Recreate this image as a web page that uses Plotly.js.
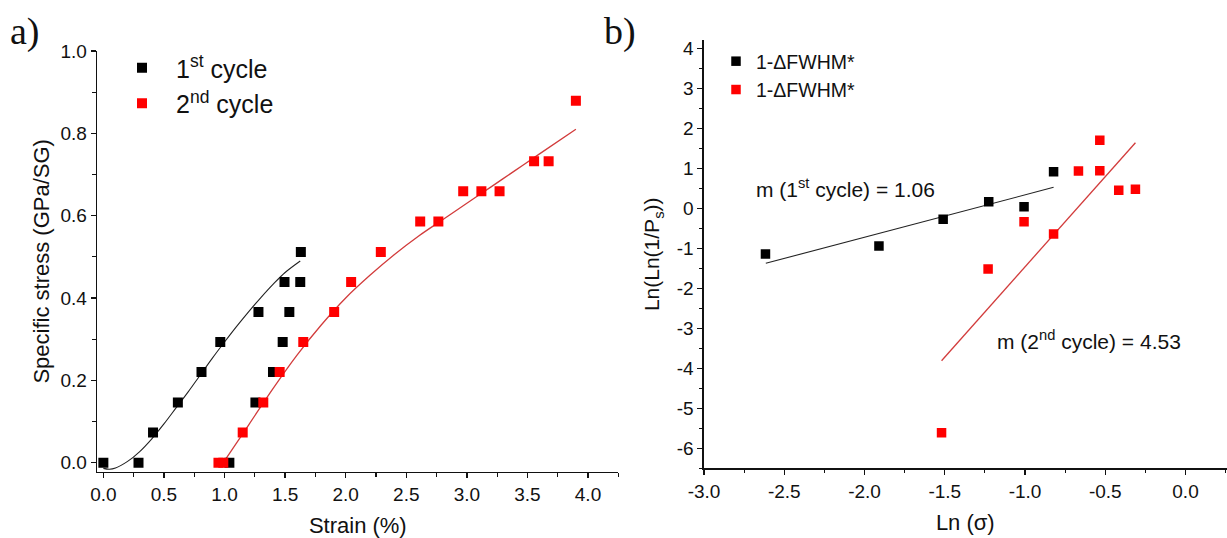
<!DOCTYPE html>
<html>
<head>
<meta charset="utf-8">
<script src="https://cdn.plot.ly/plotly-3.0.1.min.js"></script>
<style>
  html, body { margin: 0; padding: 0; background: #fff; }
  #chart { width: 1227px; height: 538px; }
</style>
</head>
<body>
<div id="chart"></div>
<script>
// ---- Panel a) data: specific stress vs strain ----
const strain1 = [0.0, 0.29, 0.41, 0.615, 0.81, 0.965, 1.04, 1.255, 1.28, 1.40, 1.48, 1.495, 1.535, 1.625, 1.63];
const stress1 = [0, 0, 0.073, 0.146, 0.22, 0.293, 0, 0.146, 0.366, 0.22, 0.293, 0.439, 0.366, 0.439, 0.512];
const strain2 = [0.95, 0.99, 1.15, 1.32, 1.455, 1.65, 1.905, 2.045, 2.29, 2.615, 2.765, 2.97, 3.12, 3.27, 3.555, 3.675, 3.9];
const stress2 = [0, 0, 0.073, 0.146, 0.22, 0.293, 0.366, 0.439, 0.512, 0.586, 0.586, 0.659, 0.659, 0.659, 0.732, 0.732, 0.879];

// fitted curves
const fitA1x = [0, 0.05, 0.1, 0.2, 0.3, 0.4, 0.5, 0.6, 0.7, 0.8, 0.9, 1.0, 1.1, 1.2, 1.3, 1.4, 1.5, 1.625];
const fitA1y = [-0.014, -0.016, -0.013, 0.003, 0.027, 0.058, 0.094, 0.133, 0.172, 0.213, 0.254, 0.293, 0.331, 0.367, 0.401, 0.433, 0.462, 0.49];
const fitA2x = [0.99, 1.2, 1.4, 1.6, 1.8, 2.0, 2.2, 2.4, 2.6, 2.8, 3.0, 3.2, 3.4, 3.6, 3.9];
const fitA2y = [0.0, 0.092, 0.18, 0.262, 0.335, 0.4, 0.455, 0.505, 0.55, 0.59, 0.63, 0.67, 0.71, 0.75, 0.81];

// ---- Panel b) data: Weibull plot ----
const lnSigma1 = [-2.617, -1.91, -1.51, -1.226, -1.006, -0.822];
const lnLn1 = [-1.14, -0.94, -0.275, 0.165, 0.04, 0.915];
const lnSigma2 = [-1.52, -1.23, -1.006, -0.822, -0.667, -0.534, -0.534, -0.416, -0.312];
const lnLn2 = [-5.61, -1.52, -0.335, -0.64, 0.93, 0.94, 1.70, 0.45, 0.475];
const fitB1x = [-2.615, -0.822];
const fitB1y = [-1.375, 0.525];
const fitB2x = [-1.52, -0.312];
const fitB2y = [-3.81, 1.64];

// tick labels
const aXticks = [0, 0.5, 1.0, 1.5, 2.0, 2.5, 3.0, 3.5, 4.0];
const aXtext = ['0.0', '0.5', '1.0', '1.5', '2.0', '2.5', '3.0', '3.5', '4.0'];
const aYticks = [0, 0.2, 0.4, 0.6, 0.8, 1.0];
const aYtext = ['0.0', '0.2', '0.4', '0.6', '0.8', '1.0'];
const bXticks = [-3.0, -2.5, -2.0, -1.5, -1.0, -0.5, 0.0];
const bXtext = ['-3.0', '-2.5', '-2.0', '-1.5', '-1.0', '-0.5', '0.0'];
const bYticks = [-6, -5, -4, -3, -2, -1, 0, 1, 2, 3, 4];
const bYtext = ['-6', '-5', '-4', '-3', '-2', '-1', '0', '1', '2', '3', '4'];

const FONT = 'Liberation Sans, Arial, sans-serif';
const RED = '#ff0000';
const INK = '#111';

const traces = [
  {x: fitA1x, y: fitA1y, mode: 'lines', line: {color: '#222', width: 1.1, shape: 'spline'}, showlegend: false, xaxis: 'x', yaxis: 'y', hoverinfo: 'skip'},
  {x: fitA2x, y: fitA2y, mode: 'lines', line: {color: '#d23c3c', width: 1.3, shape: 'spline'}, showlegend: false, xaxis: 'x', yaxis: 'y', hoverinfo: 'skip'},
  {x: strain1, y: stress1, mode: 'markers', name: '1<sup>st</sup> cycle', marker: {symbol: 'square', size: 10, color: '#000'}, xaxis: 'x', yaxis: 'y', legend: 'legend'},
  {x: strain2, y: stress2, mode: 'markers', name: '2<sup>nd</sup> cycle', marker: {symbol: 'square', size: 10, color: RED}, xaxis: 'x', yaxis: 'y', legend: 'legend'},

  {x: fitB1x, y: fitB1y, mode: 'lines', line: {color: '#222', width: 1.1}, showlegend: false, xaxis: 'x2', yaxis: 'y2', hoverinfo: 'skip'},
  {x: fitB2x, y: fitB2y, mode: 'lines', line: {color: '#d23c3c', width: 1.3}, showlegend: false, xaxis: 'x2', yaxis: 'y2', hoverinfo: 'skip'},
  {x: lnSigma1, y: lnLn1, mode: 'markers', name: '1-ΔFWHM*', marker: {symbol: 'square', size: 9.5, color: '#000'}, xaxis: 'x2', yaxis: 'y2', legend: 'legend2'},
  {x: lnSigma2, y: lnLn2, mode: 'markers', name: '1-ΔFWHM*', marker: {symbol: 'square', size: 9.5, color: RED}, xaxis: 'x2', yaxis: 'y2', legend: 'legend2'}
];

const axisCommon = {
  showline: true, linecolor: INK, linewidth: 1.6, mirror: false,
  ticks: 'outside', ticklen: 5, tickwidth: 1.4, tickcolor: INK,
  showgrid: false, zeroline: false,
  tickfont: {family: FONT, size: 19, color: INK},
  tickmode: 'array', fixedrange: true
};
const minorCommon = {ticks: 'outside', ticklen: 3.5, tickwidth: 1.2, tickcolor: INK, tick0: 0};

const layout = {
  width: 1227, height: 538,
  margin: {l: 0, r: 0, t: 0, b: 0},
  paper_bgcolor: '#fff', plot_bgcolor: '#fff',
  font: {family: FONT, color: INK},
  xaxis: Object.assign({}, axisCommon, {
    domain: [97.3 / 1227, 618.3 / 1227], range: [-0.05, 4.25],
    tickvals: aXticks, ticktext: aXtext, anchor: 'y',
    minor: Object.assign({dtick: 0.25}, minorCommon),
    title: {text: 'Strain (%)', font: {family: FONT, size: 22, color: INK}, standoff: 14}
  }),
  yaxis: Object.assign({}, axisCommon, {
    domain: [1 - 471.7 / 538, 1 - 51 / 538], range: [-0.022, 1.0],
    tickvals: aYticks, ticktext: aYtext, anchor: 'x',
    minor: Object.assign({dtick: 0.1}, minorCommon),
    title: {text: 'Specific stress (GPa/SG)', font: {family: FONT, size: 22, color: INK}, standoff: 5}
  }),
  xaxis2: Object.assign({}, axisCommon, {
    domain: [704 / 1227, 1226.6 / 1227], range: [-3.0, 0.256],
    tickvals: bXticks, ticktext: bXtext, anchor: 'y2',
    minor: Object.assign({dtick: 0.25}, minorCommon),
    title: {text: 'Ln (σ)', font: {family: FONT, size: 22, color: INK}, standoff: 14}
  }),
  yaxis2: Object.assign({}, axisCommon, {
    domain: [1 - 468.3 / 538, 1 - 40.3 / 538], range: [-6.5, 4.2],
    tickvals: bYticks, ticktext: bYtext, anchor: 'x2',
    minor: Object.assign({dtick: 0.5}, minorCommon),
    title: {text: 'Ln(Ln(1/P<sub>s</sub>))', font: {family: FONT, size: 21, color: INK}, standoff: 11}
  }),
  legend: {
    x: 108 / 1227, y: 1 - 45 / 538, xanchor: 'left', yanchor: 'top',
    bgcolor: 'rgba(0,0,0,0)', borderwidth: 0,
    font: {family: FONT, size: 25, color: INK},
    itemwidth: 58, tracegroupgap: 0
  },
  legend2: {
    x: 716 / 1227, y: 1 - 42 / 538, xanchor: 'left', yanchor: 'top',
    bgcolor: 'rgba(0,0,0,0)', borderwidth: 0,
    font: {family: FONT, size: 19.5, color: INK},
    itemwidth: 30, tracegroupgap: 0
  },
  annotations: [
    {text: 'a)', xref: 'paper', yref: 'paper', x: 8 / 1227, y: 1 - 31 / 538, xanchor: 'left', yanchor: 'middle', showarrow: false,
     font: {family: 'Liberation Serif, Times New Roman, serif', size: 38, color: INK}},
    {text: 'b)', xref: 'paper', yref: 'paper', x: 602 / 1227, y: 1 - 31 / 538, xanchor: 'left', yanchor: 'middle', showarrow: false,
     font: {family: 'Liberation Serif, Times New Roman, serif', size: 38, color: INK}},
    {text: 'm (1<sup>st</sup> cycle) = 1.06', xref: 'x2', yref: 'y2', x: -2.69, y: 0.51, xanchor: 'left', yanchor: 'middle', showarrow: false,
     font: {family: FONT, size: 21, color: INK}},
    {text: 'm (2<sup>nd</sup> cycle) = 4.53', xref: 'x2', yref: 'y2', x: -1.188, y: -3.29, xanchor: 'left', yanchor: 'middle', showarrow: false,
     font: {family: FONT, size: 21, color: INK}}
  ]
};

Plotly.newPlot('chart', traces, layout, {staticPlot: true, displayModeBar: false});
</script>
</body>
</html>
